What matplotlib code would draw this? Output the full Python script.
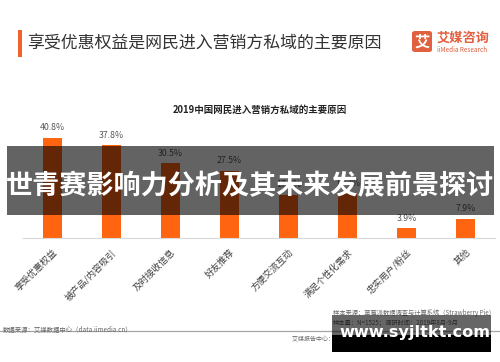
import matplotlib
matplotlib.use("Agg")
import matplotlib.pyplot as plt
from matplotlib.patches import Rectangle, FancyBboxPatch

plt.rcParams['font.family'] = ['Noto Sans CJK SC', 'DejaVu Sans']

categories = ["享受优惠权益", "被产品/内容吸引", "及时接收信息", "好友推荐",
              "方便交流互动", "满足个性化需求", "忠实用户/粉丝", "其他"]
values = [40.8, 37.8, 30.5, 27.5, 17.7, 18.3, 3.9, 7.9]
value_labels = ["40.8%", "37.8%", "30.5%", "27.5%", "17.7%", "18.3%", "3.9%", "7.9%"]

W, H = 500, 362
fig = plt.figure(figsize=(5.0, 3.62), dpi=100)
fig.patch.set_facecolor("white")

def fx(x):
    return x / W

def fy(y):
    return 1 - y / H

# header
fig.patches.append(Rectangle((fx(18), fy(57)), fx(3.5), 27 / H, transform=fig.transFigure,
                             facecolor="#F4622B", edgecolor="none"))
fig.text(fx(27), fy(44), "享受优惠权益是网民进入营销方私域的主要原因", fontsize=12.2,
         color="#333333", va="center", ha="left")

# logo
fig.patches.append(FancyBboxPatch((fx(412), fy(52)), 20 / W, 21 / H, transform=fig.transFigure,
                                  boxstyle="round,pad=0,rounding_size=0.006",
                                  facecolor="#E1603F", edgecolor="none"))
fig.text(fx(422), fy(41.5), "艾", fontsize=11, color="white", ha="center", va="center",
         fontweight="bold")
fig.text(fx(437), fy(38), "艾媒咨询", fontsize=9.5, color="#E1603F", ha="left", va="center",
         fontweight="bold")
fig.text(fx(437), fy(49.5), "iiMedia Research", fontsize=4.6, color="#E1603F", ha="left",
         va="center")

# chart title
fig.text(fx(260), fy(110), "2019中国网民进入营销方私域的主要原因", fontsize=6.8, color="#222222",
         ha="center", va="center", fontweight="bold")

# axes
ax = fig.add_axes([fx(23), fy(238), 472 / W, 117.6 / H])
x = list(range(len(categories)))
bars = ax.bar(x, values, width=0.32, color="#FF6410", edgecolor="none")
ax.set_xlim(-0.5, len(categories) - 0.5)
ax.set_ylim(0, 48)
for s in ["top", "right", "left"]:
    ax.spines[s].set_visible(False)
ax.spines["bottom"].set_color("#D9D9D9")
ax.spines["bottom"].set_linewidth(0.8)
ax.set_yticks([])
ax.set_xticks(x)
ax.set_xticklabels(categories, rotation=45, ha="right", rotation_mode="anchor",
                   fontsize=6.6, color="#404040")
ax.tick_params(axis="x", length=0, pad=7)
for xi, v, lab in zip(x, values, value_labels):
    ax.annotate(lab, (xi, v), xytext=(0, 4), textcoords="offset points", ha="center",
                va="bottom", fontsize=6.3, color="#595959")

# footer
fig.text(fx(3), fy(330), "数据来源：艾媒数据中心（data.iimedia.cn）", fontsize=4.6, color="#666666",
         ha="left", va="center")
fig.text(fx(333), fy(313), "样本来源：草莓派数据调查与计算系统（Strawberry Pie）", fontsize=4.5,
         color="#666666", ha="left", va="center")
fig.text(fx(333), fy(323), "样本量：N=1525；调研时间：2019年8月-9月", fontsize=4.5,
         color="#666666", ha="left", va="center")
fig.lines.append(plt.Line2D([0, 1], [fy(331), fy(331)], transform=fig.transFigure,
                            color="#A6A6A6", linewidth=0.9))
fig.text(fx(292), fy(339), "艾媒报告中心：report.iimedia.cn  ©2019  iiMedia Research  Inc",
         fontsize=4.3, color="#666666", ha="left", va="center")

# overlay band with big title
fig.patches.append(Rectangle((fx(7), fy(215)), 487 / W, 69 / H, transform=fig.transFigure,
                             facecolor="black", alpha=0.61, edgecolor="none", zorder=10))
fig.text(fx(250), fy(186), "世青赛影响力分析及其未来发展前景探讨", fontsize=19.5, color="white",
         ha="center", va="center", fontweight="bold", zorder=11)

# website box
fig.patches.append(Rectangle((fx(332), fy(335)), 159 / W, 20 / H, transform=fig.transFigure,
                             facecolor="black", alpha=0.6, edgecolor="none", zorder=10))
fig.patches.append(Rectangle((fx(332), fy(352)), 159 / W, 17 / H, transform=fig.transFigure,
                             facecolor="black", edgecolor="none", zorder=10))
fig.text(fx(415), fy(333), "www.syjltkt.com", fontsize=11.6, color="white", ha="center",
         va="center", fontweight="bold", family=["DejaVu Sans"], zorder=11)

fig.savefig("out.png", dpi=100)
